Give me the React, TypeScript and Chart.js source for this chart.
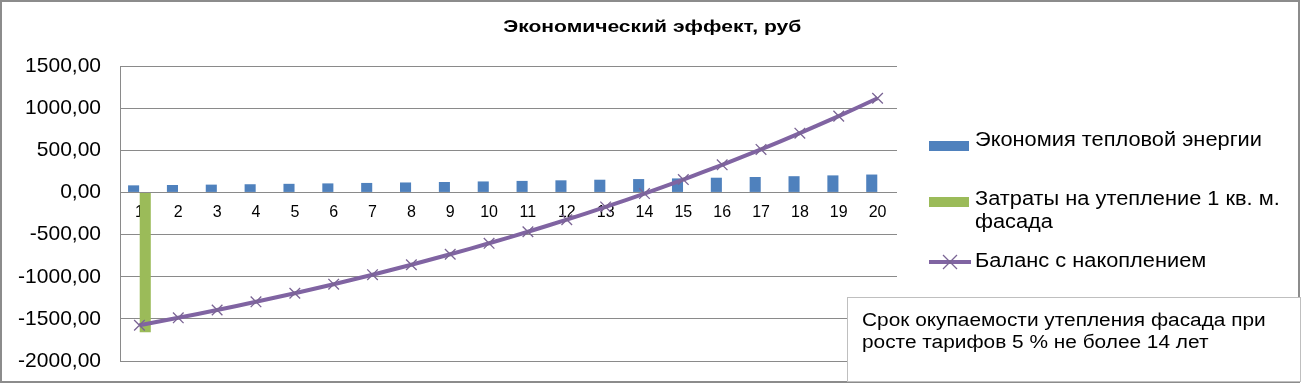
import React, { useEffect, useRef } from "react";
import { Chart, registerables } from "chart.js";

Chart.register(...registerables);

const categories = ["1","2","3","4","5","6","7","8","9","10","11","12","13","14","15","16","17","18","19","20"];
const savings = [84, 88.2, 92.6, 97.2, 102.1, 107.2, 112.6, 118.2, 124.1, 130.3, 136.8, 143.7, 150.9, 158.4, 166.3, 174.6, 183.4, 192.5, 202.2, 212.3];
const costs = [-1660, null, null, null, null, null, null, null, null, null, null, null, null, null, null, null, null, null, null, null];
const balance = [-1576, -1487.8, -1395.2, -1298.0, -1195.9, -1088.7, -976.1, -857.9, -733.8, -603.5, -466.7, -323.0, -172.1, -13.7, 152.6, 327.2, 510.6, 703.1, 905.3, 1117.6];

const title = "Экономический эффект, руб";
const seriesNames = ["Экономия тепловой энергии", "Затраты на утепление 1 кв. м. фасада", "Баланс с накоплением"];
const noteLines = ["Срок окупаемости утепления фасада при", "росте тарифов 5 % не более 14 лет"];

const BLUE = "#4F81BD";
const GREEN = "#9BBB59";
const PURPLE = "#8064A2";
const GRID = "#8A8A8A";
const FONT = "'Liberation Sans', Arial, sans-serif";

export default function App() {
  const ref = useRef<HTMLCanvasElement>(null);

  useEffect(() => {
    if (!ref.current) return;
    const chart = new Chart(ref.current, {
      type: "bar",
      data: {
        labels: categories,
        datasets: [
          {
            type: "bar",
            label: seriesNames[0],
            data: savings,
            backgroundColor: BLUE,
            categoryPercentage: 0.6,
            barPercentage: 0.95,
            order: 1,
          },
          {
            type: "bar",
            label: seriesNames[1],
            data: costs as any,
            backgroundColor: GREEN,
            categoryPercentage: 0.6,
            barPercentage: 0.95,
            order: 2,
          },
          {
            type: "line",
            label: seriesNames[2],
            data: balance,
            borderColor: PURPLE,
            borderWidth: 4,
            pointStyle: "crossRot",
            pointRadius: 7.5,
            pointBorderColor: "#7A6494",
            pointBorderWidth: 1.3,
            tension: 0.15,
            order: 0,
          } as any,
        ],
      },
      options: {
        animation: false,
        responsive: false,
        maintainAspectRatio: false,
        layout: { padding: { left: 0, right: 406, top: 66, bottom: 22 } },
        plugins: {
          legend: { display: false },
          tooltip: { enabled: false },
          title: { display: false },
        },
        scales: {
          x: {
            type: "category",
            position: { y: 0 } as any,
            afterFit: (s: any) => { s.height = 0; s.paddingTop = 0; s.paddingBottom = 0; },
            grid: { display: false },
            border: { display: false },
            ticks: {
              color: "#000",
              font: { family: FONT, size: 16 },
              padding: 3,
              maxRotation: 0,
              autoSkip: false,
            },
          },
          y: {
            min: -2000,
            max: 1500,
            afterFit: (s: any) => { s.width = 120; s.paddingBottom = 0; s.paddingTop = 0; },
            ticks: {
              stepSize: 500,
              color: "#000",
              font: { family: FONT, size: 21 },
              padding: 19,
              callback: (v: any) => Number(v).toFixed(2).replace(".", ","),
            },
            grid: { color: GRID, lineWidth: 1, drawTicks: false },
            border: { display: true, color: GRID, width: 1 },
          },
        },
      },
    });
    return () => chart.destroy();
  }, []);

  const legendText: React.CSSProperties = {
    position: "absolute",
    left: 975,
    fontFamily: FONT,
    fontSize: 20,
    lineHeight: "23px",
    color: "#000",
    whiteSpace: "nowrap",
    transform: "scaleX(1.09)",
    transformOrigin: "0 0",
  };

  return (
    <div style={{ position: "absolute", left: 0, top: 0, width: 1303, height: 383, background: "#fff", overflow: "hidden" }}>
      <canvas ref={ref} width={1303} height={383} style={{ position: "absolute", left: 0, top: 0, width: 1303, height: 383 }} />
      <div style={{ position: "absolute", left: 0, top: 0, width: 1300, height: 383, border: "2px solid #8C8C8C", boxSizing: "border-box", pointerEvents: "none" }} />
      {/* title */}
      <div style={{ position: "absolute", left: 0, top: 17, width: 1303, textAlign: "center", fontFamily: FONT, fontSize: 17, fontWeight: "bold", lineHeight: "20px", color: "#000" }}>
        <span style={{ display: "inline-block", transform: "scaleX(1.24)", transformOrigin: "50% 50%", marginLeft: 2 }}>{title}</span>
      </div>
      {/* legend */}
      <div style={{ position: "absolute", left: 929, top: 141, width: 40, height: 10, background: BLUE }} />
      <div style={{ ...legendText, top: 128 }}>{seriesNames[0]}</div>
      <div style={{ position: "absolute", left: 929, top: 197, width: 40, height: 10, background: GREEN }} />
      <div style={{ ...legendText, top: 187 }}>Затраты на утепление 1 кв. м.<br />фасада</div>
      <svg style={{ position: "absolute", left: 929, top: 252 }} width={42} height={20}>
        <line x1={0} y1={10} x2={42} y2={10} stroke={PURPLE} strokeWidth={4} />
        <line x1={14} y1={3} x2={28} y2={17} stroke="#7A6494" strokeWidth={1.3} />
        <line x1={28} y1={3} x2={14} y2={17} stroke="#7A6494" strokeWidth={1.3} />
      </svg>
      <div style={{ ...legendText, top: 249 }}>{seriesNames[2]}</div>
      {/* note box */}
      <div style={{ position: "absolute", left: 847, top: 297, width: 454, height: 85, border: "1px solid #BFBFBF", background: "#fff", boxSizing: "border-box", padding: "11px 0 0 14px", fontFamily: FONT, fontSize: 18, lineHeight: "22px", color: "#000" }}>
        <div style={{ transform: "scaleX(1.158)", transformOrigin: "0 0", whiteSpace: "nowrap" }}>
          {noteLines[0]}<br />{noteLines[1]}
        </div>
      </div>
    </div>
  );
}
